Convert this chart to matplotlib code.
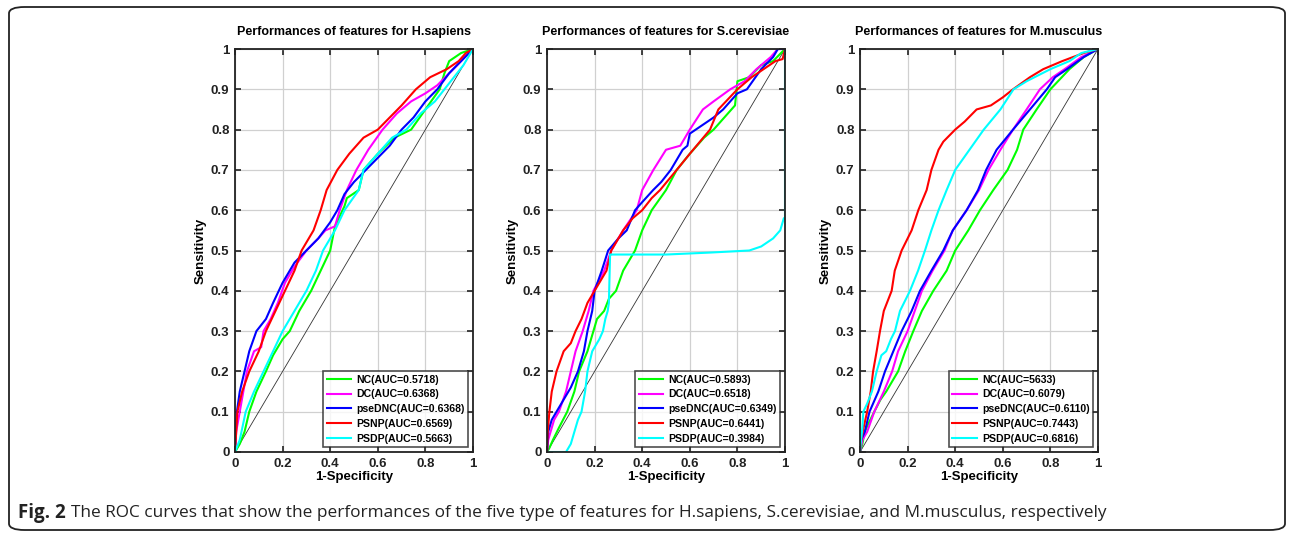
import numpy as np
import matplotlib.pyplot as plt
from matplotlib.patches import FancyBboxPatch

plt.rcParams['font.family'] = ['Liberation Sans', 'DejaVu Sans']

# ROC curves, (1-specificity, sensitivity) vertices
titles = ['Performances of features for H.sapiens',
          'Performances of features for S.cerevisiae',
          'Performances of features for M.musculus']
names = ['NC', 'DC', 'pseDNC', 'PSNP', 'PSDP']
colors = ['#00ff00', '#ff00ff', '#0000ff', '#ff0000', '#00ffff']

auc_hs = ['0.5718', '0.6368', '0.6368', '0.6569', '0.5663']
auc_sc = ['0.5893', '0.6518', '0.6349', '0.6441', '0.3984']
auc_mm = ['5633', '0.6079', '0.6110', '0.7443', '0.6816']

# H.sapiens
hs_nc_x = [0, 0.02, 0.04, 0.06, 0.09, 0.13, 0.16, 0.2, 0.23, 0.27, 0.32, 0.36, 0.40, 0.42, 0.46, 0.47, 0.52, 0.54, 0.6, 0.67, 0.74, 0.8, 0.86, 0.88, 0.9, 0.95, 1]
hs_nc_y = [0, 0.02, 0.05, 0.1, 0.15, 0.2, 0.24, 0.28, 0.3, 0.35, 0.4, 0.45, 0.5, 0.56, 0.61, 0.63, 0.65, 0.7, 0.74, 0.78, 0.8, 0.85, 0.9, 0.94, 0.97, 0.99, 1]
hs_dc_x = [0, 0.005, 0.02, 0.035, 0.05, 0.08, 0.11, 0.12, 0.15, 0.18, 0.21, 0.25, 0.3, 0.35, 0.38, 0.42, 0.44, 0.47, 0.51, 0.56, 0.62, 0.68, 0.74, 0.8, 0.85, 0.9, 0.95, 1]
hs_dc_y = [0, 0.05, 0.1, 0.15, 0.2, 0.25, 0.26, 0.3, 0.33, 0.37, 0.42, 0.46, 0.5, 0.53, 0.55, 0.56, 0.6, 0.65, 0.7, 0.75, 0.8, 0.84, 0.87, 0.89, 0.91, 0.94, 0.97, 1]
hs_pse_x = [0, 0.003, 0.008, 0.02, 0.04, 0.06, 0.09, 0.13, 0.16, 0.2, 0.25, 0.3, 0.35, 0.4, 0.43, 0.46, 0.5, 0.55, 0.6, 0.65, 0.7, 0.75, 0.8, 0.85, 0.9, 0.95, 1]
hs_pse_y = [0, 0.05, 0.1, 0.15, 0.2, 0.25, 0.3, 0.33, 0.37, 0.42, 0.47, 0.5, 0.53, 0.57, 0.6, 0.64, 0.67, 0.7, 0.73, 0.76, 0.8, 0.83, 0.87, 0.9, 0.94, 0.97, 1]
hs_psnp_x = [0, 0.005, 0.01, 0.03, 0.06, 0.1, 0.13, 0.17, 0.21, 0.25, 0.28, 0.33, 0.36, 0.385, 0.43, 0.48, 0.54, 0.6, 0.65, 0.7, 0.76, 0.82, 0.89, 0.94, 0.97, 1]
hs_psnp_y = [0, 0.05, 0.1, 0.15, 0.2, 0.25, 0.3, 0.35, 0.4, 0.45, 0.5, 0.55, 0.6, 0.65, 0.7, 0.74, 0.78, 0.8, 0.83, 0.86, 0.9, 0.93, 0.95, 0.97, 0.99, 1]
hs_psdp_x = [0, 0.02, 0.045, 0.08, 0.12, 0.16, 0.2, 0.25, 0.3, 0.34, 0.37, 0.42, 0.46, 0.52, 0.54, 0.6, 0.66, 0.72, 0.78, 0.84, 0.88, 0.92, 0.96, 1]
hs_psdp_y = [0, 0.03, 0.1, 0.15, 0.2, 0.25, 0.3, 0.35, 0.4, 0.45, 0.5, 0.55, 0.6, 0.65, 0.7, 0.74, 0.78, 0.8, 0.84, 0.87, 0.9, 0.93, 0.96, 1]

# S.cerevisiae
sc_nc_x = [0, 0.01, 0.025, 0.05, 0.085, 0.115, 0.135, 0.17, 0.195, 0.21, 0.24, 0.26, 0.29, 0.32, 0.37, 0.4, 0.44, 0.5, 0.545, 0.6, 0.66, 0.7, 0.76, 0.79, 0.8, 0.85, 0.9, 0.95, 1]
sc_nc_y = [0, 0.01, 0.03, 0.06, 0.1, 0.15, 0.2, 0.25, 0.3, 0.33, 0.35, 0.38, 0.4, 0.45, 0.5, 0.55, 0.6, 0.65, 0.7, 0.74, 0.78, 0.8, 0.84, 0.86, 0.92, 0.93, 0.96, 0.97, 1]
sc_dc_x = [0, 0.005, 0.015, 0.03, 0.05, 0.08, 0.1, 0.12, 0.15, 0.175, 0.195, 0.24, 0.27, 0.32, 0.377, 0.4, 0.447, 0.5, 0.56, 0.6, 0.655, 0.7, 0.77, 0.83, 0.88, 0.94, 0.97, 1]
sc_dc_y = [0, 0.03, 0.05, 0.08, 0.1, 0.15, 0.2, 0.25, 0.3, 0.35, 0.4, 0.45, 0.5, 0.55, 0.6, 0.65, 0.7, 0.75, 0.76, 0.8, 0.85, 0.87, 0.9, 0.92, 0.95, 0.98, 1, 1]
sc_pse_x = [0, 0.005, 0.02, 0.04, 0.07, 0.1, 0.13, 0.155, 0.17, 0.19, 0.2, 0.23, 0.257, 0.3, 0.335, 0.37, 0.4, 0.446, 0.48, 0.52, 0.57, 0.59, 0.6, 0.65, 0.7, 0.74, 0.8, 0.84, 0.9, 0.95, 0.97, 1]
sc_pse_y = [0, 0.05, 0.08, 0.1, 0.13, 0.16, 0.2, 0.25, 0.3, 0.35, 0.4, 0.45, 0.5, 0.53, 0.55, 0.6, 0.62, 0.65, 0.67, 0.7, 0.75, 0.76, 0.79, 0.81, 0.83, 0.85, 0.89, 0.9, 0.95, 0.98, 1, 1]
sc_psnp_x = [0, 0.003, 0.01, 0.02, 0.04, 0.07, 0.1, 0.12, 0.145, 0.17, 0.2, 0.25, 0.27, 0.32, 0.36, 0.4, 0.44, 0.475, 0.545, 0.6, 0.685, 0.72, 0.8, 0.86, 0.91, 0.96, 0.99, 1]
sc_psnp_y = [0, 0.05, 0.1, 0.15, 0.2, 0.25, 0.27, 0.3, 0.33, 0.37, 0.4, 0.45, 0.5, 0.55, 0.58, 0.6, 0.63, 0.65, 0.7, 0.74, 0.8, 0.85, 0.9, 0.93, 0.95, 0.97, 0.975, 1]
sc_psdp_x = [0, 0.08, 0.1, 0.11, 0.13, 0.145, 0.16, 0.17, 0.19, 0.22, 0.235, 0.245, 0.255, 0.26, 0.265, 0.27, 0.5, 0.69, 0.85, 0.9, 0.95, 0.98, 0.995, 1, 1]
sc_psdp_y = [0, 0, 0.02, 0.04, 0.08, 0.1, 0.15, 0.2, 0.25, 0.28, 0.3, 0.33, 0.35, 0.37, 0.49, 0.49, 0.49, 0.495, 0.5, 0.51, 0.53, 0.55, 0.58, 0.58, 1]

# M.musculus
mm_nc_x = [0, 0.01, 0.02, 0.035, 0.06, 0.086, 0.11, 0.16, 0.19, 0.224, 0.26, 0.308, 0.364, 0.4, 0.455, 0.504, 0.56, 0.62, 0.66, 0.686, 0.742, 0.8, 0.88, 0.94, 1]
mm_nc_y = [0, 0.02, 0.05, 0.07, 0.1, 0.13, 0.15, 0.2, 0.25, 0.3, 0.35, 0.4, 0.45, 0.5, 0.55, 0.6, 0.65, 0.7, 0.75, 0.8, 0.85, 0.9, 0.95, 0.98, 1]
mm_dc_x = [0, 0.01, 0.03, 0.06, 0.1, 0.135, 0.16, 0.2, 0.23, 0.26, 0.305, 0.355, 0.39, 0.448, 0.5, 0.54, 0.56, 0.59, 0.643, 0.7, 0.756, 0.81, 0.86, 0.93, 1]
mm_dc_y = [0, 0.03, 0.05, 0.1, 0.15, 0.2, 0.25, 0.3, 0.35, 0.4, 0.45, 0.5, 0.55, 0.6, 0.65, 0.7, 0.72, 0.75, 0.8, 0.85, 0.9, 0.93, 0.95, 0.98, 1]
mm_pse_x = [0, 0.005, 0.02, 0.04, 0.077, 0.105, 0.14, 0.175, 0.217, 0.252, 0.3, 0.35, 0.39, 0.448, 0.496, 0.53, 0.574, 0.643, 0.714, 0.785, 0.82, 0.87, 0.94, 1]
mm_pse_y = [0, 0.03, 0.05, 0.1, 0.15, 0.2, 0.25, 0.3, 0.35, 0.4, 0.45, 0.5, 0.55, 0.6, 0.65, 0.7, 0.75, 0.8, 0.85, 0.9, 0.93, 0.95, 0.98, 1]
mm_psnp_x = [0, 0.005, 0.015, 0.03, 0.045, 0.055, 0.07, 0.084, 0.1, 0.133, 0.146, 0.175, 0.217, 0.245, 0.28, 0.3, 0.33, 0.35, 0.4, 0.44, 0.49, 0.55, 0.6, 0.643, 0.714, 0.77, 0.85, 0.94, 1]
mm_psnp_y = [0, 0.03, 0.06, 0.1, 0.15, 0.2, 0.25, 0.3, 0.35, 0.4, 0.45, 0.5, 0.55, 0.6, 0.65, 0.7, 0.75, 0.77, 0.8, 0.82, 0.85, 0.86, 0.88, 0.9, 0.93, 0.95, 0.97, 0.99, 1]
mm_psdp_x = [0, 0.003, 0.01, 0.014, 0.03, 0.05, 0.07, 0.09, 0.11, 0.13, 0.147, 0.168, 0.21, 0.244, 0.273, 0.3, 0.33, 0.364, 0.4, 0.46, 0.52, 0.59, 0.645, 0.7, 0.8, 0.88, 0.93, 1]
mm_psdp_y = [0, 0.02, 0.06, 0.1, 0.12, 0.15, 0.2, 0.24, 0.25, 0.28, 0.3, 0.35, 0.4, 0.45, 0.5, 0.55, 0.6, 0.65, 0.7, 0.75, 0.8, 0.85, 0.9, 0.92, 0.95, 0.97, 0.99, 1]

panels = [
    ([(hs_nc_x, hs_nc_y), (hs_dc_x, hs_dc_y), (hs_pse_x, hs_pse_y), (hs_psnp_x, hs_psnp_y), (hs_psdp_x, hs_psdp_y)], auc_hs),
    ([(sc_nc_x, sc_nc_y), (sc_dc_x, sc_dc_y), (sc_pse_x, sc_pse_y), (sc_psnp_x, sc_psnp_y), (sc_psdp_x, sc_psdp_y)], auc_sc),
    ([(mm_nc_x, mm_nc_y), (mm_dc_x, mm_dc_y), (mm_pse_x, mm_pse_y), (mm_psnp_x, mm_psnp_y), (mm_psdp_x, mm_psdp_y)], auc_mm),
]

W, H = 1293, 534
fig = plt.figure(figsize=(W / 100, H / 100), dpi=100)

# outer rounded frame
frame = FancyBboxPatch((9 / W, 4 / H), 1276 / W, 523 / H,
                       boxstyle='round,pad=0,rounding_size=0.012',
                       transform=fig.transFigure, fill=False,
                       edgecolor='#222222', linewidth=1.3)
fig.patches.append(frame)

lefts = [235, 547, 860]
ticks = np.arange(0, 1.01, 0.1)
xticks = np.arange(0, 1.01, 0.2)

for k, (curves, aucs) in enumerate(panels):
    ax = fig.add_axes([lefts[k] / W, 82 / H, 238 / W, 403 / H])
    ax.plot([0, 1], [0, 1], color='#333333', lw=0.6)
    for (x, y), nm, c, a in zip(curves, names, colors, aucs):
        ax.plot(x, y, color=c, lw=1.5, label='%s(AUC=%s)' % (nm, a))
    ax.set_xlim(0, 1)
    ax.set_ylim(0, 1)
    ax.set_xticks(xticks)
    ax.set_yticks(ticks)
    ax.set_xticklabels(['0', '0.2', '0.4', '0.6', '0.8', '1'])
    ax.set_yticklabels(['0'] + ['%.1f' % t for t in ticks[1:-1]] + ['1'])
    ax.grid(True, color='#d0d0d0', lw=0.9)
    ax.tick_params(direction='in', top=True, right=True, length=4, width=1.2,
                   labelsize=9.5, pad=4, colors='#222222')
    for lab in ax.get_xticklabels() + ax.get_yticklabels():
        lab.set_fontweight('bold')
    for s in ax.spines.values():
        s.set_linewidth(1.3)
        s.set_color('#222222')
    ax.set_title(titles[k], fontsize=9, fontweight='bold', pad=10)
    ax.set_xlabel('1-Specificity', fontsize=9.5, fontweight='bold', labelpad=1)
    ax.set_ylabel('Sensitivity', fontsize=9.5, fontweight='bold', labelpad=3)
    leg = ax.legend(loc='lower right', prop={'weight': 'bold', 'size': 7.6},
                    fancybox=False, edgecolor='#222222', handlelength=2.3,
                    borderaxespad=0.45, labelspacing=0.45, borderpad=0.35,
                    handletextpad=0.5)
    leg.get_frame().set_linewidth(1.2)

cy = 1 - 513 / H
t1 = fig.text(18 / W, cy, 'Fig. 2', fontsize=13.5, va='center',
              family='Open Sans', fontweight='bold', color='#222222')
fig.canvas.draw()
bb = t1.get_window_extent(fig.canvas.get_renderer())
fig.text((bb.x1 + 5) / W, cy,
         'The ROC curves that show the performances of the five type of features for H.sapiens, '
         'S.cerevisiae, and M.musculus, respectively',
         fontsize=12.4, va='center', family='Open Sans', color='#222222')

fig.savefig('out.png', dpi=100)
